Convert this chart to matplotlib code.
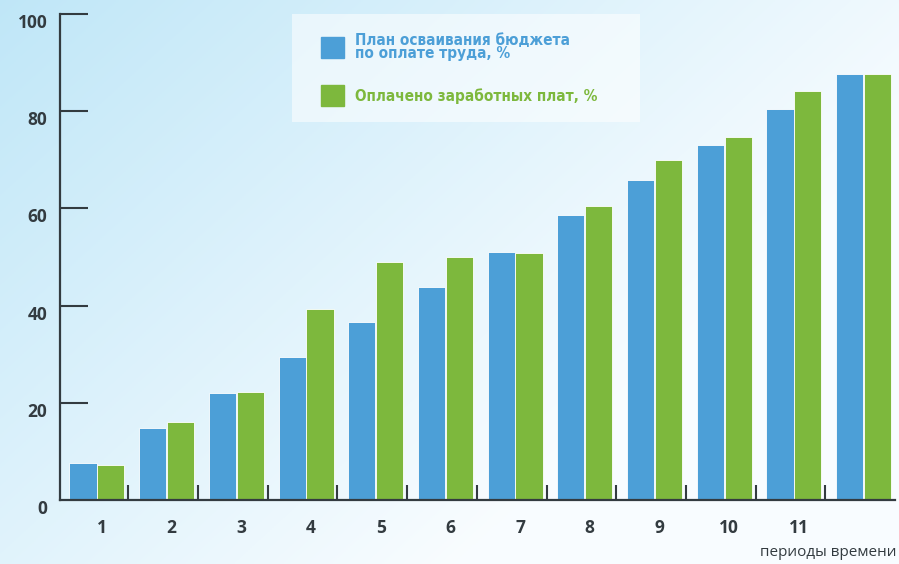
import numpy as np
import matplotlib
matplotlib.use('Agg')
import matplotlib.pyplot as plt
import matplotlib.transforms as mtransforms
from matplotlib.patches import Patch, Rectangle

periods = [str(i) for i in range(1, 12)] + ['']
plan = [7.6, 14.8, 22.1, 29.5, 36.7, 43.9, 51.1, 58.6, 65.8, 73.0, 80.4, 87.6]
paid = [7.2, 16.1, 22.3, 39.2, 48.9, 49.9, 50.9, 60.4, 69.9, 74.6, 84.1, 87.6]
yticks = [0, 20, 40, 60, 80, 100]

planLabel = 'План осваивания бюджета\nпо оплате труда, %'
paidLabel = 'Оплачено заработных плат, %'
xTitle = 'периоды времени'

blue = '#4c9fd7'
green = '#7db83d'
dark = '#333b40'

plt.rcParams['font.family'] = ['Open Sans', 'DejaVu Sans']

fig = plt.figure(figsize=(8.99, 5.64), dpi=100)

# sky-like background, bluer at the top left
bg = fig.add_axes([0, 0, 1, 1], zorder=-10)
h, w = 282, 450
yy, xx = np.mgrid[0:h, 0:w]
yy = yy / h
xx = xx / w
b = np.clip((1 - xx) * 0.8 + (1 - yy) * 0.55 - 0.4, 0, 1)
top = np.array([0.74, 0.90, 0.97])
low = np.array([0.975, 0.99, 1.0])
img = top[None, None, :] * b[..., None] + low[None, None, :] * (1 - b[..., None])
bg.imshow(img, aspect='auto', extent=[0, 1, 0, 1])
bg.axis('off')

# legend box sits behind the chart axes
fig.patches.append(Rectangle((292 / 899, 1 - 122 / 564), 348 / 899, 108 / 564,
                             transform=fig.transFigure, facecolor='white',
                             alpha=0.55, edgecolor='none', zorder=-5))

ax = fig.add_axes([60 / 899, 1 - 500 / 564, 835 / 899, 486 / 564])
ax.patch.set_alpha(0)

x = np.arange(len(plan))
bw = 0.39
b1 = ax.bar(x - 0.2, plan, bw, color=blue, edgecolor='white', linewidth=0.6)
b2 = ax.bar(x + 0.2, paid, bw, color=green, edgecolor='white', linewidth=0.6)

ax.set_xlim(-0.53, 11.45)
ax.set_ylim(0, 100)

for s in ['top', 'right']:
    ax.spines[s].set_visible(False)
for s in ['left', 'bottom']:
    ax.spines[s].set_color(dark)
    ax.spines[s].set_linewidth(1.6)

ax.set_yticks(yticks)
ax.set_yticklabels([str(v) for v in yticks], fontsize=12.5, fontweight='bold', color=dark)
ax.tick_params(axis='y', direction='in', length=20, width=1.5, color=dark, pad=9)
ax.yaxis.get_major_ticks()[0].tick1line.set_visible(False)
shift = mtransforms.ScaledTranslation(0, -7 / 100, fig.dpi_scale_trans)
for lab in ax.get_yticklabels():
    lab.set_transform(lab.get_transform() + shift)

ax.set_xticks(x[:11] + 0.07)
ax.set_xticklabels(periods[:11], fontsize=12.5, fontweight='bold', color=dark)
ax.tick_params(axis='x', which='major', length=0, pad=14)
ax.set_xticks(x[:11] + 0.45, minor=True)
ax.tick_params(axis='x', which='minor', direction='in', length=11, width=1.5, color=dark)

fig.text(897 / 899, 1 - 553 / 564, xTitle, ha='right', va='center', fontsize=11, color=dark)

leg = ax.legend(handles=[Patch(color=blue), Patch(color=green)],
                labels=[planLabel, paidLabel],
                loc='upper left', bbox_to_anchor=(321 / 899, 1 - 33 / 564),
                bbox_transform=fig.transFigure, frameon=False,
                handlelength=1.5, handleheight=1.75, handletextpad=0.75,
                labelspacing=1.6, borderpad=0, borderaxespad=0,
                prop={'weight': 'bold', 'size': 11, 'stretch': 'condensed',
                      'family': ['Liberation Sans Narrow', 'DejaVu Sans']})
for t, c in zip(leg.get_texts(), [blue, green]):
    t.set_color(c)
    t.set_linespacing(0.8)

fig.savefig('out.png', dpi=100)
